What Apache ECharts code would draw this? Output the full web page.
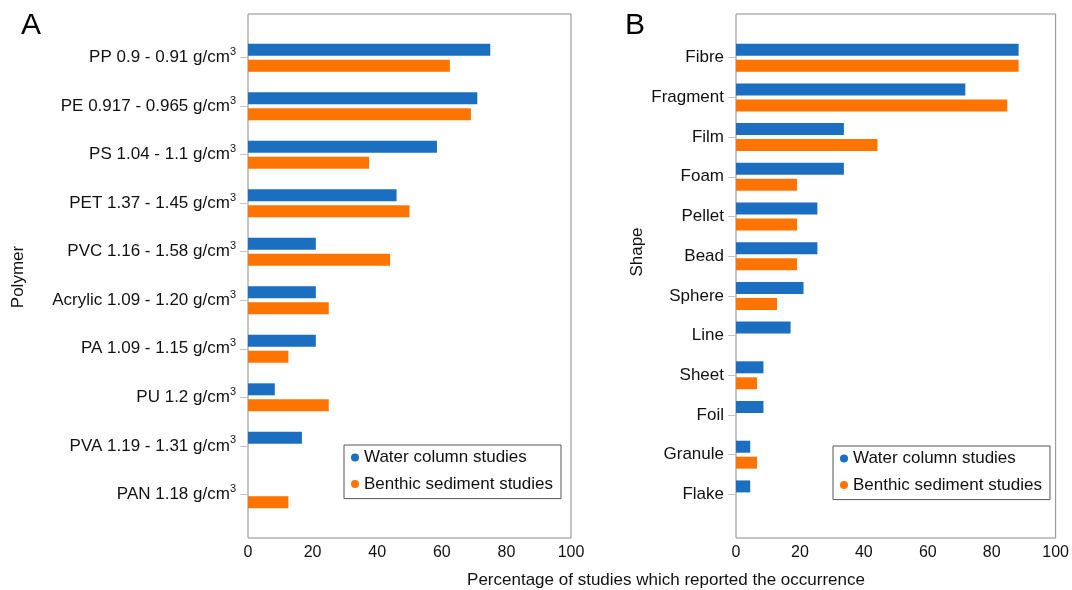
<!DOCTYPE html>
<html><head><meta charset="utf-8">
<script src="https://cdn.jsdelivr.net/npm/echarts@6/dist/echarts.min.js"></script>
<style>html,body{margin:0;padding:0;background:#fff}#c{width:1072px;height:590px}</style>
</head><body><div id="c"></div>
<script>
const polymers = ['PP 0.9 - 0.91 g/cm3','PE 0.917 - 0.965 g/cm3','PS 1.04 - 1.1 g/cm3','PET 1.37 - 1.45 g/cm3','PVC 1.16 - 1.58 g/cm3','Acrylic 1.09 - 1.20 g/cm3','PA 1.09 - 1.15 g/cm3','PU 1.2 g/cm3','PVA 1.19 - 1.31 g/cm3','PAN 1.18 g/cm3'];
const polymerWater = [75, 71, 58.5, 46, 21, 21, 21, 8.3, 16.7, null];
const polymerBenthic = [62.5, 69, 37.5, 50, 44, 25, 12.5, 25, null, 12.5];
const shapes = ['Fibre','Fragment','Film','Foam','Pellet','Bead','Sphere','Line','Sheet','Foil','Granule','Flake'];
const shapeWater = [87.5, 71, 33.4, 33.4, 25.2, 25.2, 20.9, 16.9, 8.5, 8.5, 4.4, 4.4];
const shapeBenthic = [87.5, 84, 43.8, 18.9, 18.9, 18.9, 12.7, null, 6.5, null, 6.5, null];
const xTicks = [0, 20, 40, 60, 80, 100];
const seriesNames = ['Water column studies', 'Benthic sediment studies'];
const colors = ['#1B6EC0', '#FF7400'];
const FONT = '"Liberation Sans", Arial, sans-serif';

const chart = echarts.init(document.getElementById('c'), null, {renderer: 'canvas'});

function frameX(gi) {
  return {type: 'value', gridIndex: gi, min: xTicks[0], max: xTicks[xTicks.length-1], interval: xTicks[1]-xTicks[0],
    axisLine: {show: false}, axisTick: {show: false}, splitLine: {show: false},
    axisLabel: {color: '#111', fontSize: 16, fontFamily: FONT, margin: 7}};
}
function hiddenX(gi) {
  return {type: 'value', gridIndex: gi, min: xTicks[0], max: xTicks[xTicks.length-1], show: false, splitLine: {show: false}};
}
function catY(gi, data) {
  return {type: 'category', gridIndex: gi, data: data, inverse: true,
    axisLine: {show: false},
    axisTick: {show: true, alignWithLabel: true, length: 8, lineStyle: {color: '#c4c4c4'}},
    axisLabel: {color: '#111', fontSize: 17, fontFamily: FONT, margin: 12,
      formatter: v => v.replace(/cm3$/, 'cm{sup|3}'),
      rich: {sup: {fontSize: 11, fontFamily: FONT, color: '#111', padding: [0, 0, 11, 0]}}}};
}
function legendAt(left, top) {
  return {orient: 'vertical', left: left, top: top, data: seriesNames, icon: 'circle',
    itemWidth: 8, itemHeight: 17, itemGap: 9.6, padding: [4, 8, 6, 7],
    borderColor: '#555', borderWidth: 1, backgroundColor: '#fff',
    textStyle: {fontSize: 17, fontFamily: FONT, color: '#111', lineHeight: 17}};
}
function bar(name, xi, yi, data, ci) {
  return {type: 'bar', name: name, xAxisIndex: xi, yAxisIndex: yi, data: data, barWidth: 12, barGap: '33%',
    itemStyle: {color: colors[ci]}, animation: false};
}

chart.setOption({
  animation: false,
  grid: [
    {left: 248, top: 14, width: 323, height: 524, show: true, borderColor: '#8a8a8a', borderWidth: 1, backgroundColor: 'transparent'},
    {left: 248, top: 33.4, width: 323, height: 485.2},
    {left: 736, top: 14, width: 323, height: 524, show: true, borderColor: '#8a8a8a', borderWidth: 1, backgroundColor: 'transparent'},
    {left: 736, top: 37.85, width: 323, height: 476.4}
  ],
  xAxis: [frameX(0), hiddenX(1), frameX(2), hiddenX(3)],
  yAxis: [
    {type: 'value', gridIndex: 0, show: false, splitLine: {show: false}},
    catY(1, polymers),
    {type: 'value', gridIndex: 2, show: false, splitLine: {show: false}},
    catY(3, shapes)
  ],
  legend: [legendAt(344, 445), legendAt(833, 446)],
  series: [
    bar(seriesNames[0], 1, 1, polymerWater, 0),
    bar(seriesNames[1], 1, 1, polymerBenthic, 1),
    bar(seriesNames[0], 3, 3, shapeWater, 0),
    bar(seriesNames[1], 3, 3, shapeBenthic, 1)
  ],
  graphic: [
    {type: 'text', x: 21, y: 26, style: {text: 'A', font: '30px ' + FONT, fill: '#000', textVerticalAlign: 'middle'}},
    {type: 'text', x: 625, y: 26, style: {text: 'B', font: '30px ' + FONT, fill: '#000', textVerticalAlign: 'middle'}},
    {type: 'text', x: 18, y: 277, rotation: Math.PI/2, style: {text: 'Polymer', font: '17px ' + FONT, fill: '#111', textAlign: 'center', textVerticalAlign: 'middle'}},
    {type: 'text', x: 637, y: 252, rotation: Math.PI/2, style: {text: 'Shape', font: '17px ' + FONT, fill: '#111', textAlign: 'center', textVerticalAlign: 'middle'}},
    {type: 'text', x: 666, y: 580, style: {text: 'Percentage of studies which reported the occurrence', font: '17px ' + FONT, fill: '#111', textAlign: 'center', textVerticalAlign: 'middle'}}
  ]
});
</script></body></html>
